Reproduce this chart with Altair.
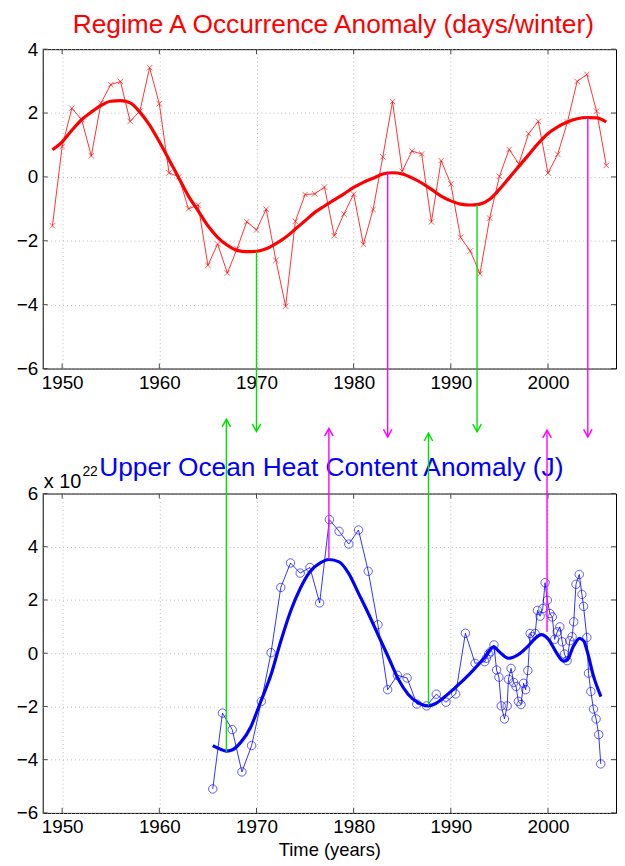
import altair as alt
import pandas as pd

# ---------------- data ----------------
top_years = list(range(1949, 2007))
top_values = [-1.53, 0.95, 2.15, 1.80, 0.66, 2.32, 2.89, 2.99, 1.74, 2.06,
              3.42, 2.29, 0.13, 0.00, -1.00, -0.88, -2.77, -2.10, -3.01, -2.25,
              -1.40, -1.66, -1.01, -2.61, -4.05, -1.39, -0.55, -0.53, -0.32, -1.84,
              -1.16, -0.54, -2.11, -1.02, 0.63, 2.36, 0.18, 0.81, 0.72, -1.41,
              0.51, -0.22, -1.89, -2.32, -3.03, -1.29, 0.02, 0.86, 0.41, 1.35,
              1.74, 0.12, 0.71, 1.72, 2.99, 3.21, 2.06, 0.36]

top_smooth_years = list(range(1949, 2007))
top_smooth_values = [0.85, 1.10, 1.46, 1.79, 2.03, 2.24, 2.37, 2.39, 2.32, 2.03,
                     1.62, 1.10, 0.54, -0.03, -0.60, -1.06, -1.53, -1.89, -2.14, -2.30,
                     -2.34, -2.33, -2.25, -2.09, -1.89, -1.63, -1.37, -1.11, -0.91, -0.72,
                     -0.53, -0.33, -0.17, -0.04, 0.09, 0.13, 0.09, -0.03, -0.19, -0.39,
                     -0.60, -0.75, -0.85, -0.88, -0.85, -0.70, -0.39, -0.03, 0.33, 0.69,
                     1.05, 1.36, 1.57, 1.72, 1.82, 1.86, 1.85, 1.72]

bot_years = [1965.5, 1966.5, 1967.5, 1968.5, 1969.5, 1970.5, 1971.5, 1972.5, 1973.5, 1974.5,
             1975.5, 1976.5, 1977.5, 1978.5, 1979.5, 1980.5, 1981.5, 1982.5, 1983.5, 1984.5,
             1985.5, 1986.5, 1987.5, 1988.5, 1989.5, 1990.5, 1991.5, 1992.5, 1993.49, 1993.66,
             1993.90, 1994.10, 1994.44, 1994.71, 1994.95, 1995.19, 1995.52, 1995.80, 1995.93, 1996.20,
             1996.47, 1996.71, 1996.95, 1997.22, 1997.49, 1997.70, 1997.93, 1998.16, 1998.41, 1998.68,
             1998.92, 1999.19, 1999.46, 1999.70, 1999.93, 2000.20, 2000.44, 2000.68, 2000.95, 2001.22,
             2001.46, 2001.70, 2001.97, 2002.24, 2002.48, 2002.65, 2002.88, 2003.22, 2003.49, 2003.66,
             2004.00, 2004.17, 2004.41, 2004.68, 2004.95, 2005.22, 2005.43]
bot_values = [-5.10, -2.25, -2.87, -4.46, -3.47, -1.81, 0.02, 2.47, 3.39, 3.01,
              3.22, 1.89, 5.02, 4.58, 4.10, 4.63, 3.08, 1.07, -1.37, -0.83,
              -0.93, -1.91, -1.98, -1.54, -1.84, -1.53, 0.75, -0.38, -0.32, -0.19,
              -0.03, 0.06, 0.31, -0.63, -0.90, -1.98, -2.47, -1.98, -0.98, -0.57,
              -1.10, -1.25, -1.81, -1.93, -1.13, -1.37, -0.65, 0.74, 0.62, 0.74,
              1.61, 1.39, 1.68, 2.65, 1.99, 1.49, 1.36, 0.52, 0.80, 0.99,
              0.43, -0.03, -0.28, 0.47, 0.62, 1.18, 2.59, 2.96, 2.21, 1.76,
              0.59, -0.75, -1.44, -2.10, -2.47, -3.06, -4.16]

bot_smooth_years = [1965.5, 1966.3, 1966.9, 1967.4, 1968.4, 1969.4, 1970.4, 1971.5, 1972.5, 1973.5,
                    1974.5, 1975.5, 1976.6, 1977.45, 1978.5, 1979.5, 1980.5, 1981.5, 1982.5, 1983.6,
                    1984.6, 1985.6, 1986.6, 1987.6, 1988.4, 1989.4, 1990.4, 1991.5, 1992.5, 1993.5,
                    1994.4, 1995.0, 1995.9, 1996.9, 1997.9, 1998.7, 1999.3, 2000.1, 2000.8, 2001.6,
                    2002.0, 2002.6, 2003.25, 2003.7, 2004.0, 2004.7, 2005.45]
bot_smooth_values = [-3.47, -3.61, -3.68, -3.65, -3.34, -2.78, -1.85, -0.80, 0.45, 1.57,
                     2.43, 3.06, 3.40, 3.52, 3.43, 2.99, 2.25, 1.50, 0.70, -0.17,
                     -0.98, -1.54, -1.85, -1.98, -1.90, -1.63, -1.31, -0.94, -0.56, -0.15,
                     0.24, 0.05, -0.19, -0.06, 0.25, 0.56, 0.70, 0.50, 0.06, -0.30,
                     -0.25, 0.25, 0.56, 0.45, 0.12, -0.88, -1.63]

# arrows linking extremes of the two smoothed curves
top_arrow_years = [1970.0, 1983.5, 1992.7, 2004.1]
top_arrow_from = [-2.33, 0.13, -0.87, 1.85]
top_arrow_to = [-7.97, -8.14, -7.98, -8.14]
top_arrow_kind = ["g", "m", "g", "m"]

bot_arrow_years = [1966.9, 1977.45, 1987.7, 1999.9]
bot_arrow_from = [-3.70, 3.55, -1.96, 0.80]
bot_arrow_to = [8.79, 8.44, 8.26, 8.38]
bot_arrow_kind = ["g", "m", "g", "m"]

x_ticks = [1950, 1960, 1970, 1980, 1990, 2000]
top_y_ticks = [-6, -4, -2, 0, 2, 4]
bot_y_ticks = [-6, -4, -2, 0, 2, 4, 6]

top_title = "Regime A Occurrence Anomaly (days/winter)"
bot_title = "Upper Ocean Heat Content Anomaly (J)"
x_title = "Time (years)"

# ---------------- style ----------------
W, H = 578, 322
FONT = "Liberation Sans"
RED = "#ff0000"
BLUE = "#0000ff"
GREEN = "#00e000"
MAGENTA = "#ff00ff"
XPATH = "M-1,-1L1,1M-1,1L1,-1"
DOWN_HEAD = "M-0.86,-1.54L0,0L0.86,-1.54"
UP_HEAD = "M-0.86,1.54L0,0L0.86,1.54"

arrow_color = alt.Color("kind:N", scale=alt.Scale(domain=["g", "m"], range=[GREEN, MAGENTA]), legend=None)


def xenc(title=None):
    return alt.X("year:Q",
                 scale=alt.Scale(domain=[1948, 2007], nice=False, zero=False),
                 axis=alt.Axis(values=x_ticks, format="d", title=title, grid=True,
                               labelPadding=5, titlePadding=4, titleFontSize=18.5,
                               titleFontWeight="normal", titleFont=FONT))


def yscale(dom):
    return alt.Scale(domain=dom, nice=False, zero=False)


def yaxis(ticks):
    return alt.Axis(values=ticks, format="d", title=None, grid=True, labelPadding=5,
                    minExtent=30, maxExtent=30)


def inner_ticks(ticks_x, ticks_y, dom):
    tx = pd.DataFrame({"year": ticks_x})
    ty = pd.DataFrame({"val": ticks_y})
    s = yscale(dom)
    xs = alt.Scale(domain=[1948, 2007], nice=False, zero=False)
    a = alt.Chart(tx).mark_rule(color="#444444", strokeWidth=1).encode(
        x=alt.X("year:Q", scale=xs), y=alt.value(H), y2=alt.value(H - 5))
    b = alt.Chart(tx).mark_rule(color="#444444", strokeWidth=1).encode(
        x=alt.X("year:Q", scale=xs), y=alt.value(0), y2=alt.value(5))
    c = alt.Chart(ty).mark_rule(color="#444444", strokeWidth=1).encode(
        y=alt.Y("val:Q", scale=s), x=alt.value(0), x2=alt.value(5))
    d = alt.Chart(ty).mark_rule(color="#444444", strokeWidth=1).encode(
        y=alt.Y("val:Q", scale=s), x=alt.value(W), x2=alt.value(W - 5))
    return [a, b, c, d]


# ---------------- top panel ----------------
TOP_DOM = [-6, 4]
top_df = pd.DataFrame({"year": top_years, "val": top_values})
top_sm = pd.DataFrame({"year": top_smooth_years, "val": top_smooth_values})
top_ar = pd.DataFrame({"year": top_arrow_years, "v1": top_arrow_from, "v2": top_arrow_to,
                       "kind": top_arrow_kind})

t_line = alt.Chart(top_df).mark_line(color=RED, strokeWidth=0.8).encode(
    x=xenc(), y=alt.Y("val:Q", scale=yscale(TOP_DOM), axis=yaxis(top_y_ticks)))
t_pts = alt.Chart(top_df).mark_point(shape=XPATH, color=RED, size=30, strokeWidth=0.9,
                                     filled=False).encode(
    x=alt.X("year:Q"), y=alt.Y("val:Q"))
t_sm = alt.Chart(top_sm).mark_line(color=RED, strokeWidth=3.2, interpolate="monotone").encode(
    x="year:Q", y="val:Q")
t_rule = alt.Chart(top_ar).mark_rule(strokeWidth=1.4).encode(
    x="year:Q", y="v1:Q", y2="v2:Q", color=arrow_color)
t_head = alt.Chart(top_ar).mark_point(shape=DOWN_HEAD, size=100, filled=False,
                                      strokeWidth=1.5, opacity=1).encode(
    x="year:Q", y="v2:Q", color=arrow_color)
t_title = alt.Chart(pd.DataFrame({"t": [top_title]})).mark_text(
    font=FONT, fontSize=26.5, color=RED, align="center", baseline="alphabetic").encode(
    text="t:N", x=alt.value(W / 2 + 4), y=alt.value(-16.5))

top = alt.layer(t_line, *inner_ticks(x_ticks, top_y_ticks, TOP_DOM), t_pts, t_sm,
                t_rule, t_head, t_title).properties(width=W, height=H)

# ---------------- bottom panel ----------------
BOT_DOM = [-6, 6]
bot_df = pd.DataFrame({"year": bot_years, "val": bot_values})
bot_sm = pd.DataFrame({"year": bot_smooth_years, "val": bot_smooth_values})
bot_ar = pd.DataFrame({"year": bot_arrow_years, "v1": bot_arrow_from, "v2": bot_arrow_to,
                       "kind": bot_arrow_kind})

b_line = alt.Chart(bot_df).mark_line(color=BLUE, strokeWidth=0.8).encode(
    x=xenc(x_title), y=alt.Y("val:Q", scale=yscale(BOT_DOM), axis=yaxis(bot_y_ticks)))
b_pts = alt.Chart(bot_df).mark_point(shape="circle", color=BLUE, size=72, strokeWidth=0.9,
                                     filled=False).encode(
    x=alt.X("year:Q"), y=alt.Y("val:Q"))
b_sm = alt.Chart(bot_sm).mark_line(color=BLUE, strokeWidth=3.2, interpolate="monotone").encode(
    x="year:Q", y="val:Q")
b_title = alt.Chart(pd.DataFrame({"t": [bot_title]})).mark_text(
    font=FONT, fontSize=26.5, color=BLUE, align="center", baseline="alphabetic").encode(
    text="t:N", x=alt.value(W / 2 + 2), y=alt.value(-18))
b_exp1 = alt.Chart(pd.DataFrame({"t": ["x 10"]})).mark_text(
    font=FONT, fontSize=20, color="black", align="left", baseline="alphabetic").encode(
    text="t:N", x=alt.value(1), y=alt.value(-6))
b_exp2 = alt.Chart(pd.DataFrame({"t": ["22"]})).mark_text(
    font=FONT, fontSize=14, color="black", align="left", baseline="alphabetic").encode(
    text="t:N", x=alt.value(40), y=alt.value(-18))
b_rule = alt.Chart(bot_ar).mark_rule(strokeWidth=1.4).encode(
    x="year:Q", y="v1:Q", y2="v2:Q", color=arrow_color)
b_head = alt.Chart(bot_ar).mark_point(shape=UP_HEAD, size=100, filled=False,
                                      strokeWidth=1.5, opacity=1).encode(
    x="year:Q", y="v2:Q", color=arrow_color)

bottom = alt.layer(b_line, *inner_ticks(x_ticks, bot_y_ticks, BOT_DOM), b_pts, b_sm,
                   b_title, b_exp1, b_exp2, b_rule, b_head).properties(width=W, height=H)

chart = alt.vconcat(top, bottom, spacing=126, bounds="flush").resolve_scale(
    x="independent", y="independent"
).properties(
    padding={"left": 4, "top": 0, "right": 0, "bottom": 0}
).configure_view(
    stroke="black", strokeWidth=1
).configure_axis(
    labelFont=FONT, labelFontSize=19, labelColor="black", domain=False, ticks=False,
    gridColor="#aaaaaa", gridDash=[1, 3], gridWidth=0.8, titleColor="black"
)

chart.save("out.html", embed_options={"renderer": "svg", "actions": False})
